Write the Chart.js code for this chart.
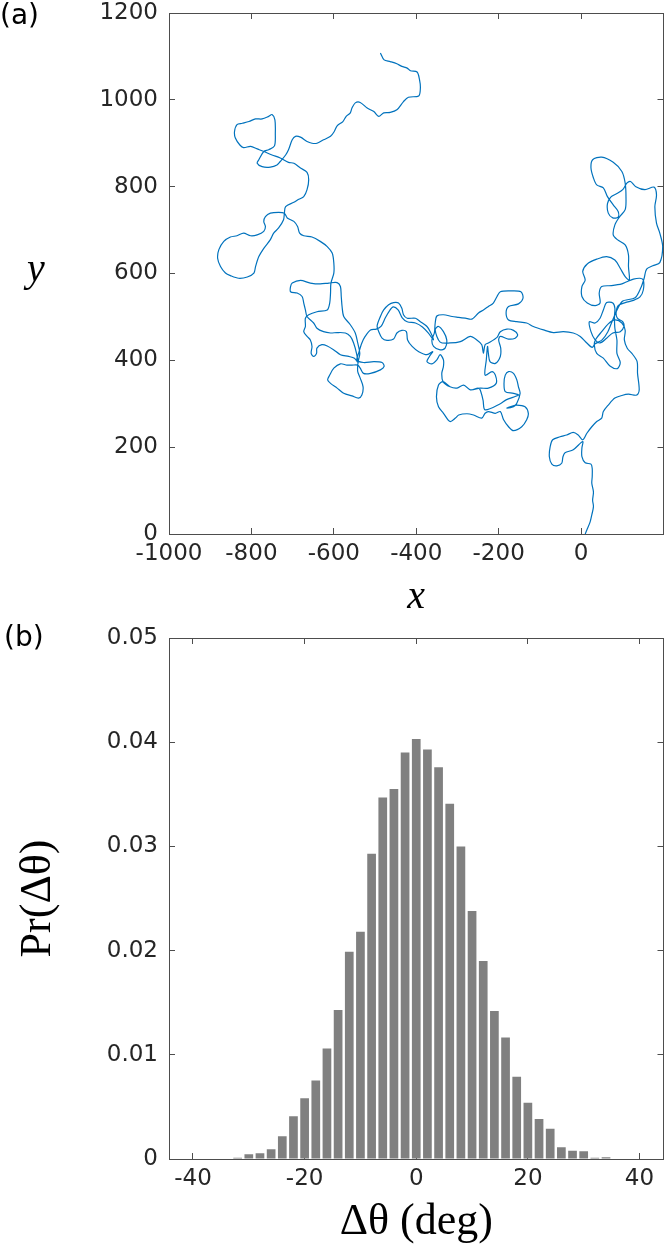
<!DOCTYPE html>
<html>
<head>
<meta charset="utf-8">
<script src="https://cdn.jsdelivr.net/npm/chart.js@4.4.1/dist/chart.umd.min.js"></script>
<style>
  body { margin: 0; background: #fff; width: 665px; height: 1250px; position: relative; overflow: hidden; }
  canvas { position: absolute; left: 0; }
  .lbl { position: absolute; line-height: 1; color: #000; white-space: nowrap; }
  .panel { font-family: 'DejaVu Sans', sans-serif; font-size: 28px; color: #000; }
  .math { font-family: 'Liberation Serif', serif; font-style: italic; font-size: 40px; }
</style>
</head>
<body>
<canvas id="trajChart" width="665" height="625" style="top:0px;width:665px;height:625px"></canvas>
<canvas id="histChart" width="665" height="635" style="top:615px;width:665px;height:635px"></canvas>
<div class="lbl panel" style="left:0px;top:1px">(a)</div>
<div class="lbl panel" style="left:4px;top:623px">(b)</div>
<div class="lbl math" style="left:27px;top:248px">y</div>

<script>
// (a) trajectory (start at the origin, end at the top)
var pathX = [10,14,22,26,30,28,30,26,27,27,24,10,2,2,4,-19,-39,-44,-47,-59,-71,-77,-75,-69,-51,-35,-19,-7,4,14,26,38,50,54,66,82,99,115,135,141,137,136,125,112,105,107,99,82,66,50,36,32,38,54,70,88,95,87,87,82,81,82,77,62,54,46,34,20,24,34,46,62,77,95,104,101,88,85,90,107,127,143,151,151,143,127,111,99,74,50,44,46,34,15,2,2,10,4,15,38,62,82,95,107,117,115,115,107,88,78,82,93,107,109,107,99,78,50,28,24,30,38,54,64,78,90,90,77,66,64,72,87,101,111,120,133,155,177,183,179,183,191,198,191,174,159,153,145,131,99,75,65,51,34,27,
  14,-2,-19,-43,-67,-91,-116,-132,-156,-176,-182,-176,-152,-141,-146,-172,-196,
  -204,-213,-225,-237,-249,-265,-281,-297,-313,-334,-350,-354,-356,-362,-358,-342,-330,-326,-334,-346,-354,-342,-318,-293,-269,-253,-241,-237,-233,-225,-204,-196,-180,-164,-154,-160,-176,-196,-200,-195,-196,-208,-221,-225,-227,-230,-233,-216,-208,-206,-225,-245,-269,-285,-301,-318,-335,-346,-351,-346,-334,-318,-305,-297,-277,-261,-241,-233,-225,-208,-196,-188,-176,-164,-144,-132,-128,-136,-156,-172,-180,-164,-156,-148,-152,-156,-164,-176,-184,-187,-184,-164,-152,-182,-196,-233,-238,-245,-250,-269,-285,-301,-318,-335,-338,-334,-334,-342,-350,-362,-374,-368,-360,-374,-394,-410,-421,-424,-435,-447,-455,-471,-483,-491,-495,
  -487,-479,-467,-455,-443,-435,-431,-422,-402,-390,-374,-366,-358,-371,-385,-402,-422,-434,-444,-456,-465,-475,-485,-497,-511,-524,-532,-540,-544,
  -528,-503,-483,-478,-487,-511,-528,-536,-542,-556,-568,-584,-600,-610,-615,-608,-592,-576,-556,-540,-532,-529,-536,-542,-542,
  -540,-537,-542,-548,-560,-576,-580,-582,-584,-592,-612,-633,-657,-681,-701,-705,
  -705,-689,-677,-673,-669,-665,-649,-641,-625,-608,-592,-572,-560,-552,-545,-542,
  -550,-564,-584,-600,-616,-629,-641,-642,-649,-655,-653,-657,-665,-673,-669,-669,
  -661,-641,-616,-610,-608,-607,-600,-600,-604,-616,-633,-653,-673,-683,-688,-697,-713,-720,
  -734,-754,-766,-770,-766,-770,-786,-802,-819,-835,-851,-867,-879,-882,-875,-863,-851,-831,-810,-794,-790,-782,-770,-754,-746,-734,-722,-720,-717,-697,-685,-673,-665,-661,-665,-681,-697,-710,-730,-750,-770,
  -786,-802,-819,-828,-839,-841,-835,-822,-806,-790,-774,-758,-750,-743,-742,-744,-758,-770,
  -782,-786,-774,-754,-738,-730,-717,-710,-701,-693,
  -681,-665,-653,-641,-625,-608,-599,-592,-578,-570,-560,-556,-548,-536,-519,-503,-491,-479,-463,-447,-431,-419,-394,-390,-392,-398,-414,-422,-435,-447,-463,-478,-487];
var pathY = [0,9,28,44,63,78,97,117,132,151,161,164,178,198,213,194,187,178,163,157,161,178,201,217,224,228,234,228,217,232,247,259,267,282,297,313,319,322,320,332,370,397,414,428,447,469,486,493,484,466,449,436,416,405,387,381,395,416,447,474,501,520,532,533,516,497,486,489,466,447,440,451,463,466,478,489,497,509,526,533,538,546,562,585,589,587,581,576,572,570,555,532,526,532,547,570,585,605,622,633,639,631,612,593,585,616,643,666,678,689,712,730,747,774,808,835,856,868,862,843,820,804,797,777,758,743,730,728,739,761,776,784,793,808,812,800,793,799,781,754,716,693,662,625,618,610,589,567,544,535,489,466,447,438,430,
  440,455,463,466,464,470,478,486,489,493,509,524,530,543,558,560,558,
  547,532,524,516,509,495,497,499,501,505,502,486,463,447,432,424,428,447,466,478,470,442,440,443,455,447,436,416,436,440,453,466,472,469,459,451,449,455,447,428,409,393,397,416,432,401,366,374,366,347,336,336,332,343,336,339,351,343,316,293,278,259,267,274,277,274,267,278,282,278,282,263,247,238,247,263,278,293,297,293,290,293,301,324,339,355,370,374,366,347,328,324,320,309,300,286,309,332,336,332,343,336,339,351,370,386,401,413,401,392,397,409,420,413,420,432,447,466,469,463,449,446,451,466,479,
  501,516,528,533,532,520,505,497,497,489,478,466,447,463,477,486,489,498,516,523,514,498,479,472,470,455,440,416,401,
  395,397,395,386,378,370,370,382,389,389,389,392,382,366,355,347,336,324,318,313,320,339,359,374,389,
  401,416,440,463,482,501,524,547,570,579,578,576,578,584,578,570,
  558,555,547,532,516,501,486,474,466,463,464,463,455,440,416,396,
  405,409,413,424,433,436,428,416,409,416,432,447,455,466,478,497,
  505,512,516,532,555,578,601,624,647,662,674,684,687,693,708,720,728,739,
  741,739,731,720,708,697,689,687,693,687,684,674,655,635,616,601,595,589,592,601,616,639,658,678,693,705,724,739,754,764,771,777,793,816,833,843,854,856,866,873,881,
  887,893,890,896,912,927,943,946,950,956,956,962,966,954,923,894,885,881,
  862,854,846,845,850,858,873,885,908,916,
  914,904,900,900,908,916,927,940,950,962,970,981,993,994,981,973,962,970,971,977,996,1006,1009,1027,1046,1064,1067,1073,1077,1083,1088,1092,1108];

// (b) histogram of turning angles, bin centres in degrees
var binCenters = [-40,-38,-36,-34,-32,-30,-28,-26,-24,-22,-20,-18,-16,-14,-12,-10,-8,-6,-4,-2,0,2,4,6,8,10,12,14,16,18,20,22,24,26,28,30,32,34,36,38,40];
var binProbs = [0,0,0,0,0.00013,0.00046,0.00056,0.00094,0.00218,0.0041,0.00583,0.00753,0.0106,0.0143,0.0199,0.0218,0.0293,0.0347,0.0355,0.0390,0.0403,0.0393,0.0376,0.0341,0.0300,0.0238,0.0190,0.0142,0.01167,0.0079,0.0054,0.00385,0.0029,0.00113,0.0008,0.00074,0.00013,0.00016,0,0,0];

var axisColor = '#4d4d4d';
var labelColor = '#262626';
var tickFont = { family: 'DejaVu Sans', size: 23 };

function makeAxis(pos, min, max, step, size, showLabels, fmt) {
    var axis = {
        type: 'linear',
        position: pos,
        min: min,
        max: max,
        offset: false,
        ticks: {
            display: showLabels,
            stepSize: step,
            includeBounds: false,
            autoSkip: false,
            maxRotation: 0,
            color: labelColor,
            font: tickFont,
            padding: (pos === 'left') ? 17 : 12,
            callback: fmt
        },
        grid: { drawOnChartArea: false, tickLength: -6, color: axisColor, lineWidth: 1, offset: false },
        border: { display: true, color: axisColor, width: 1 },
        afterFit: function (scale) {
            if (pos === 'left' || pos === 'right') scale.width = size;
            else scale.height = size;
            // labels may hang over the box edges, no extra room needed
            scale.paddingLeft = 0;
            scale.paddingRight = 0;
            scale.paddingTop = 0;
            scale.paddingBottom = 0;
        }
    };
    return axis;
}

function plain(v) { return String(+(+v).toFixed(3)); }

// ---- panel (a)
var trajPoints = pathX.map(function (x, i) { return { x: x, y: pathY[i] }; });

var xA = makeAxis('bottom', -1000, 200, 200, 91, true, function (v) { return v === 200 ? '' : plain(v); });
xA.title = { display: true, text: 'x', color: '#000', font: { family: 'Liberation Serif', style: 'italic', size: 40, lineHeight: 1 }, padding: { top: 0, bottom: 8 } };

new Chart(document.getElementById('trajChart'), {
    type: 'scatter',
    data: {
        datasets: [{
            data: trajPoints,
            showLine: true,
            borderColor: '#0072BD',
            borderWidth: 1.2,
            pointRadius: 0,
            tension: 0.3
        }]
    },
    options: {
        responsive: false,
        animation: false,
        devicePixelRatio: 1,
        layout: { padding: { top: 13, right: 1.5, bottom: 0, left: 0 } },
        plugins: { legend: { display: false }, tooltip: { enabled: false } },
        scales: {
            x: xA,
            x2: makeAxis('top', -1000, 200, 200, 0, false, plain),
            y: makeAxis('left', 0, 1200, 200, 169, true, plain),
            y2: makeAxis('right', 0, 1200, 200, 0, false, plain)
        }
    }
});

// ---- panel (b)
var histPoints = binCenters.map(function (c, i) { return { x: c, y: binProbs[i] }; });

var xB = makeAxis('bottom', -44.3, 44.3, 20, 91, true, plain);
xB.title = { display: true, text: 'Δθ (deg)', color: '#000', font: { family: 'Liberation Serif', size: 44, lineHeight: 1 }, padding: { top: 0, bottom: 6 } };
var yB = makeAxis('left', 0, 0.05, 0.01, 169, true, plain);
yB.title = { display: true, text: 'Pr(Δθ)', color: '#000', font: { family: 'Liberation Serif', size: 44, lineHeight: 1 }, padding: { top: 16, bottom: 0 } };

new Chart(document.getElementById('histChart'), {
    type: 'bar',
    data: {
        datasets: [{
            data: histPoints,
            backgroundColor: '#808080',
            borderWidth: 0,
            categoryPercentage: 1,
            barPercentage: 0.78
        }]
    },
    options: {
        responsive: false,
        animation: false,
        devicePixelRatio: 1,
        layout: { padding: { top: 23, right: 1.5, bottom: 0, left: 0 } },
        plugins: { legend: { display: false }, tooltip: { enabled: false } },
        scales: {
            x: xB,
            x2: makeAxis('top', -44.3, 44.3, 20, 0, false, plain),
            y: yB,
            y2: makeAxis('right', 0, 0.05, 0.01, 0, false, plain)
        }
    }
});
</script>
</body>
</html>
